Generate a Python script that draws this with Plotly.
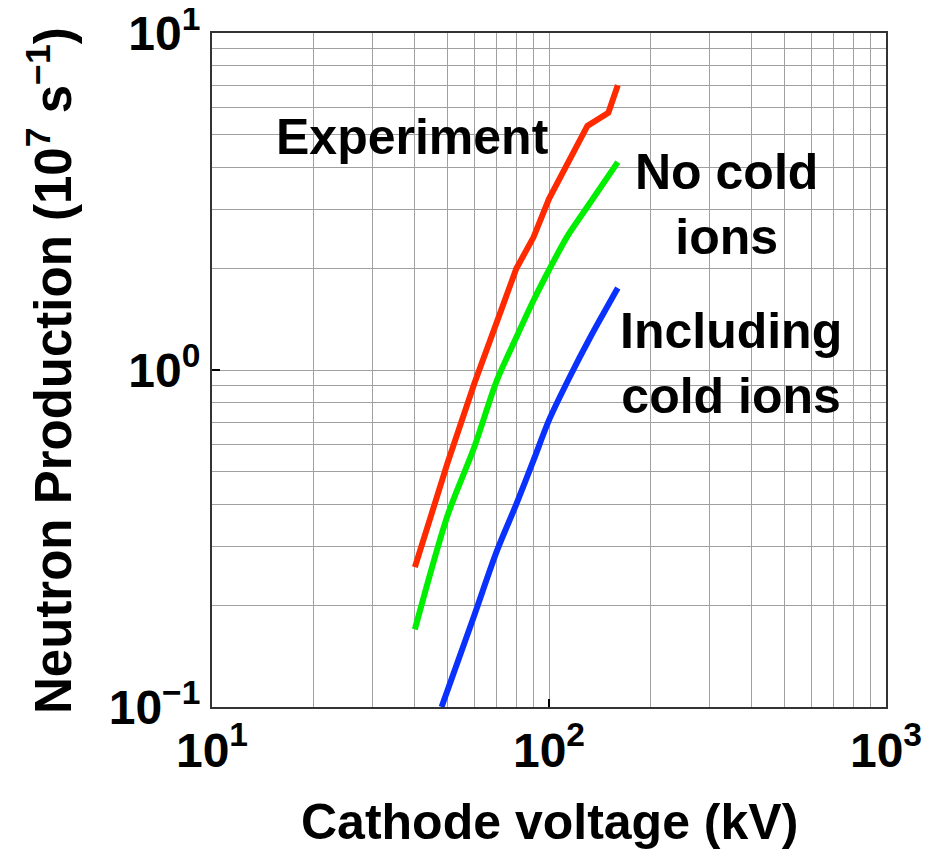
import plotly.graph_objects as go

# Experiment
exp_v = [40, 50, 60, 70, 80, 90, 100, 130, 150, 160]
exp_n = [0.26, 0.53, 0.91, 1.38, 2.0, 2.48, 3.22, 5.3, 5.8, 7.0]
# No cold ions
nocold_v = [40, 50, 60, 70, 80, 90, 100, 113, 130, 160]
nocold_n = [0.17, 0.37, 0.59, 0.93, 1.25, 1.61, 1.98, 2.48, 3.05, 4.14]
# Including cold ions
cold_v = [48, 60, 70, 80, 90, 100, 115, 132, 160]
cold_n = [0.10, 0.187, 0.29, 0.40, 0.54, 0.71, 0.95, 1.24, 1.75]

x_tickvals = [10, 100, 1000]
x_ticktext = ["10<sup>1</sup>", "10<sup>2</sup>", "10<sup>3</sup>"]
y_tickvals = [0.1, 1, 10]
y_ticktext = ["10<sup>−1</sup>", "10<sup>0</sup>", "10<sup>1</sup>"]

FONT = "Liberation Sans, Arial, Helvetica, sans-serif"

fig = go.Figure()
fig.add_trace(go.Scatter(x=exp_v, y=exp_n, mode="lines",
                         line=dict(color="#ff2a00", width=6), name="Experiment"))
fig.add_trace(go.Scatter(x=nocold_v, y=nocold_n, mode="lines",
                         line=dict(color="#00ee00", width=6, shape="spline", smoothing=0.8),
                         name="No cold ions"))
fig.add_trace(go.Scatter(x=cold_v, y=cold_n, mode="lines",
                         line=dict(color="#0a32ff", width=6, shape="spline", smoothing=0.8),
                         name="Including cold ions"))

grid = "#a0a0a0"
axis_common = dict(
    type="log", showline=True, linecolor="#333333", linewidth=2, mirror=True,
    showgrid=True, gridcolor=grid, gridwidth=1.2,
    ticks="inside", ticklen=8, tickcolor="black", tickwidth=2,
    minor=dict(dtick="D1", showgrid=True, gridcolor=grid, gridwidth=1.2, ticks=""),
    tickfont=dict(family=FONT, size=48, color="black", weight="bold"),
    zeroline=False, automargin=False, ticklabeloverflow="allow",
)

fig.update_layout(
    width=929, height=842,
    margin=dict(l=204, r=51, t=25, b=143),
    plot_bgcolor="white", paper_bgcolor="white",
    showlegend=False,
    font=dict(family=FONT, color="black"),
    xaxis=dict(range=[1, 3], tickvals=x_tickvals, ticktext=x_ticktext, **axis_common),
    yaxis=dict(range=[-1, 1], tickvals=y_tickvals, ticktext=y_ticktext, **axis_common),
)

title_font = dict(family=FONT, size=50, color="black", weight="bold")
fig.add_annotation(x=0.5, y=-0.171, xref="paper", yref="paper",
                   xanchor="center", yanchor="middle",
                   text="Cathode voltage (kV)", showarrow=False, font=title_font)
fig.add_annotation(x=-0.2404, y=0.5, xref="paper", yref="paper", textangle=-90,
                   xanchor="center", yanchor="middle",
                   text="Neutron Production (10<sup>7</sup> s<sup>−1</sup>)",
                   showarrow=False, font=dict(family=FONT, size=51, color="black", weight="bold"))

ann_font = dict(family=FONT, size=50, color="black", weight="bold")
fig.add_annotation(x=0.297, y=0.846, xref="paper", yref="paper", text="Experiment",
                   xanchor="center", yanchor="middle", showarrow=False, font=ann_font)
fig.add_annotation(x=0.764, y=0.745, xref="paper", yref="paper", text="No cold<br>ions",
                   xanchor="center", yanchor="middle", showarrow=False, font=ann_font, align="center")
fig.add_annotation(x=0.77, y=0.51, xref="paper", yref="paper", text="Including<br>cold ions",
                   xanchor="center", yanchor="middle", showarrow=False, font=ann_font, align="center")

fig.write_html("out.html")
